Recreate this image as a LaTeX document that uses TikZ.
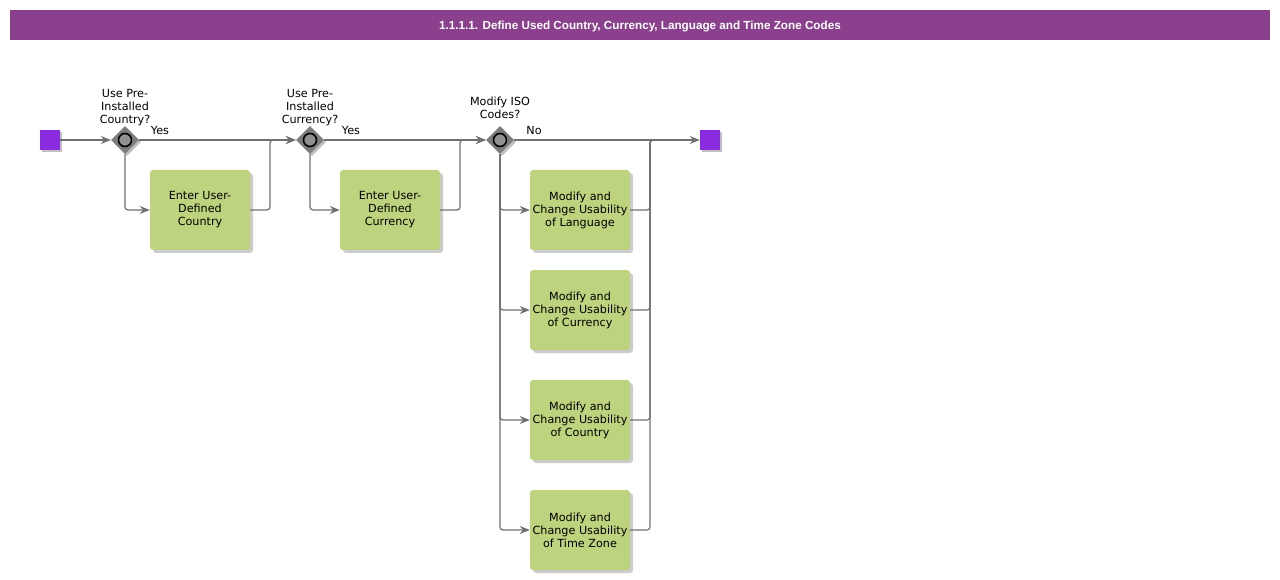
\documentclass[tikz,border=0pt]{standalone}
\usepackage{fontspec}
\setmainfont{DejaVu Sans}
\newfontfamily\titlefont{Liberation Sans}
\usetikzlibrary{shapes.geometric,shadows,arrows.meta}

\definecolor{titlepurple}{RGB}{138,64,140}
\definecolor{eventviolet}{RGB}{138,43,226}
\definecolor{taskgreen}{RGB}{189,211,126}
\definecolor{gatewaygray}{RGB}{125,125,125}
\definecolor{flowgray}{RGB}{112,112,112}

\begin{document}
\begin{tikzpicture}[
    x=1pt, y=-1pt,
      titlebar/.style={fill=titlepurple, minimum width=1260pt, minimum height=30pt, inner sep=0pt, text height=9pt, text depth=0pt, text=white, font=\titlefont\bfseries\fontsize{11.7}{14}\selectfont},
      event/.style={fill=eventviolet, minimum size=20pt, inner sep=0pt, drop shadow={shadow xshift=2pt, shadow yshift=-2pt, fill=black, opacity=0.25}},
      gateway/.style={diamond, fill=gatewaygray, minimum size=28pt, inner sep=0pt, drop shadow={shadow xshift=2pt, shadow yshift=-2pt, fill=black, opacity=0.25}},
      task/.style={fill=taskgreen, rounded corners=3pt, minimum width=100pt, minimum height=80pt, inner sep=1pt, align=center, font=\fontsize{11.2}{13}\selectfont, drop shadow={shadow xshift=3pt, shadow yshift=-3pt, fill=black, opacity=0.2}},
      question/.style={align=center, inner sep=1pt, font=\fontsize{11.2}{13}\selectfont},
      branch/.style={inner sep=0pt, font=\fontsize{11.2}{13}\selectfont},
      line/.style={draw=flowgray, line width=1.2pt, rounded corners=3pt},
      flow/.style={line, -{Stealth[length=10pt, width=8pt]}}
  ]
      \useasboundingbox (0,0) rectangle (1280,580);

      % Title
      \node (title) at (640,25) [titlebar] {1.1.1.1. Define Used Country, Currency, Language and Time Zone Codes};

      % Start and end
      \node (start) at (50,140) [event] {};
      \node (stop) at (710,140) [event] {};

      % Gateways
      \node (gwa) at (125,140) [gateway] {};
      \node (gwb) at (310,140) [gateway] {};
      \node (gwc) at (500,140) [gateway] {};
      \foreach \g in {gwa,gwb,gwc}
        \draw[black, line width=1.6pt, fill=gatewaygray!85] (\g) circle (6.5pt);

      % Questions
      \node (qa) at (125,108) [question] {Use Pre-\\Installed\\Country?};
      \node (qb) at (310,108) [question] {Use Pre-\\Installed\\Currency?};
      \node (qc) at (500,108) [question] {Modify ISO\\Codes?};
      \node (yesa) at (160,130) [branch] {Yes};
      \node (yesb) at (351,130) [branch] {Yes};
      \node (noc) at (534,130) [branch] {No};

      % Tasks
      \node (taska) at (200,210) [task] {Enter User-\\Defined\\Country};
      \node (taskb) at (390,210) [task] {Enter User-\\Defined\\Currency};
      \node (tlang) at (580,210) [task] {Modify and\\Change Usability\\of Language};
      \node (tcur) at (580,310) [task] {Modify and\\Change Usability\\of Currency};
      \node (tcou) at (580,420) [task] {Modify and\\Change Usability\\of Country};
      \node (tzone) at (580,530) [task] {Modify and\\Change Usability\\of Time Zone};

      % Joins
      \coordinate (ja) at (270,140);
      \coordinate (jb) at (460,140);
      \coordinate (jc) at (650,140);

      % Arrows
      \draw[flow] (start) -- (gwa);
      \draw[flow] (gwa) -- (gwb);
      \draw[flow] (gwa.south) |- (taska.west);
      \draw[flow] (taska.east) -| (ja) -- (gwb.west);
      \draw[flow] (gwb) -- (gwc);
      \draw[flow] (gwb.south) |- (taskb.west);
      \draw[flow] (taskb.east) -| (jb) -- (gwc.west);
      \draw[flow] (gwc) -- (stop);
      \foreach \t in {tlang,tcur,tcou,tzone} {
        \draw[flow] (gwc.south) |- (\t.west);
        \draw[line] (\t.east) -| (jc) -- ++(5,0);
      }
  \end{tikzpicture}
\end{document}
